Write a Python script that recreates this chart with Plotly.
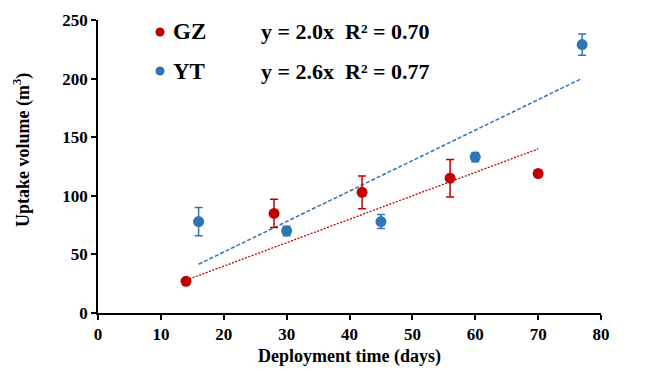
import plotly.graph_objects as go

# GZ series
gz_x = [14, 28, 42, 56, 70]
gz_y = [27, 85, 103, 115, 119]
gz_err = [0, 12, 14, 16, 3]
gz_slope = 2.0
gz_label = "GZ"
gz_eq = "y = 2.0x &nbsp;R² = 0.70"

# YT series
yt_x = [16, 30, 45, 60, 77]
yt_y = [78, 70, 78, 133, 229]
yt_err = [12, 4, 6, 4, 9]
yt_slope = 2.6
yt_label = "YT"
yt_eq = "y = 2.6x &nbsp;R² = 0.77"

x_ticks = [0, 10, 20, 30, 40, 50, 60, 70, 80]
y_ticks = [0, 50, 100, 150, 200, 250]

RED = "#C00000"
BLUE = "#2E75B6"
FONT = "'Times New Roman', 'Liberation Serif', Times, serif"

# plot area in page pixels (page has an 8px body offset)
PL, PR, PT, PB = 98, 601, 20, 313
PW, PH = PR - PL, PB - PT

fig = go.Figure()

# trend lines (fits through the origin)
gz_tx = [min(gz_x), max(gz_x)]
yt_tx = [min(yt_x), max(yt_x)]
fig.add_trace(go.Scatter(x=gz_tx, y=[gz_slope * v for v in gz_tx], mode="lines",
                         line=dict(color=RED, width=1.3, dash="2px,1.5px"), showlegend=False, hoverinfo="skip"))
fig.add_trace(go.Scatter(x=yt_tx, y=[yt_slope * v for v in yt_tx], mode="lines",
                         line=dict(color=BLUE, width=1.5, dash="4px,2px"), showlegend=False, hoverinfo="skip"))

fig.add_trace(go.Scatter(x=gz_x, y=gz_y, mode="markers", name=gz_label,
                         marker=dict(color=RED, size=11),
                         error_y=dict(type="data", array=gz_err, color=RED, thickness=1.5, width=4),
                         showlegend=False))
fig.add_trace(go.Scatter(x=yt_x, y=yt_y, mode="markers", name=yt_label,
                         marker=dict(color=BLUE, size=11),
                         error_y=dict(type="data", array=yt_err, color=BLUE, thickness=1.5, width=4),
                         showlegend=False))

# custom legend
anns = []
shapes = []
for i, (lab, eq, col) in enumerate([(gz_label, gz_eq, RED), (yt_label, yt_eq, BLUE)]):
    ypix = 32 + i * 39
    yc = 1 - (ypix - PT) / PH
    shapes.append(dict(type="circle", xref="paper", yref="paper",
                       x0=(160 - 4.5 - PL) / PW, x1=(160 + 4.5 - PL) / PW,
                       y0=1 - (ypix + 4.5 - PT) / PH, y1=1 - (ypix - 4.5 - PT) / PH,
                       fillcolor=col, line=dict(width=0)))
    anns.append(dict(text=f"<b>{lab}</b>", xref="paper", yref="paper",
                     x=(171 - PL) / PW, y=yc, xanchor="left", yanchor="middle",
                     showarrow=False, font=dict(family=FONT, size=23, color="black")))
    anns.append(dict(text=f"<b>{eq}</b>", xref="paper", yref="paper",
                     x=(259 - PL) / PW, y=yc, xanchor="left", yanchor="middle",
                     showarrow=False, font=dict(family=FONT, size=22, color="black")))

# y-axis title
anns.append(dict(text="<b>Uptake volume (m<sup>3</sup>)</b>", xref="paper", yref="paper",
                 x=(22 - PL) / PW, y=1 - (150 - PT) / PH, xanchor="center", yanchor="middle",
                 textangle=-90, showarrow=False, font=dict(family=FONT, size=18, color="black")))

fig.update_layout(
    width=664, height=363,
    margin=dict(l=PL - 8, r=664 + 8 - PR, t=PT - 8, b=363 + 8 - PB),
    paper_bgcolor="white", plot_bgcolor="white",
    font=dict(family=FONT, color="black"),
    annotations=anns, shapes=shapes,
    xaxis=dict(range=[0, 80], tickvals=x_ticks, ticktext=[f"<b>{v}</b>" for v in x_ticks],
               showgrid=False, zeroline=False, showline=True, linecolor="black", linewidth=1.5,
               ticks="outside", ticklen=5, tickwidth=1.5, tickcolor="black", automargin=False,
               tickfont=dict(family=FONT, size=17),
               title=dict(text="<b>Deployment time (days)</b>", font=dict(family=FONT, size=18), standoff=6)),
    yaxis=dict(range=[0, 250], tickvals=y_ticks, ticktext=[f"<b>{v}</b>" for v in y_ticks],
               showgrid=False, zeroline=False, showline=True, linecolor="black", linewidth=1.5,
               ticks="outside", ticklen=5, tickwidth=1.5, tickcolor="black", automargin=False,
               tickfont=dict(family=FONT, size=17)),
)

fig.write_html("out.html")
